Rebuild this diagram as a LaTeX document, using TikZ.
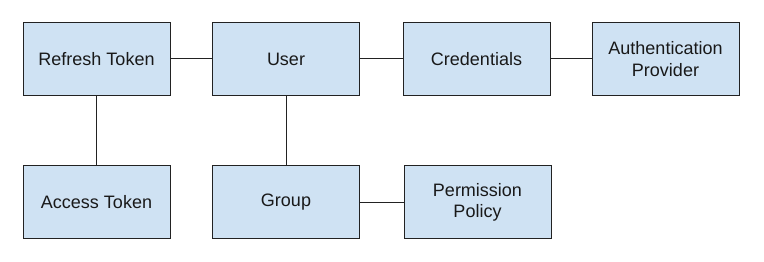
\documentclass[tikz,border=0pt]{standalone}
\usepackage{fontspec}
\setmainfont{Liberation Sans}
\definecolor{boxfill}{HTML}{CFE2F3}
\definecolor{boxline}{HTML}{222222}
\begin{document}
\begin{tikzpicture}[x=1pt,y=1pt,
  entity/.style={draw=boxline, fill=boxfill, line width=1pt, minimum width=147pt, minimum height=73pt, inner sep=0pt, align=center, font=\fontsize{18}{21.5}\selectfont, text=black!90},
  link/.style={draw=boxline, line width=1pt}]
\useasboundingbox (0,0) rectangle (764,262);
\node[entity] (refresh) at (96.5,203) {Refresh Token};
\node[entity] (user) at (286,203) {User};
\node[entity] (cred) at (476.5,203) {Credentials};
\node[entity] (auth) at (665.5,203) {Authentication\\Provider};
\node[entity] (access) at (96.5,59.5) {Access Token};
\node[entity] (group) at (286,59.5) {Group};
\node[entity] (perm) at (477.5,59.5) {Permission\\Policy};
\draw[link] (refresh) -- (user);
\draw[link] (user) -- (cred);
\draw[link] (cred) -- (auth);
\draw[link] (refresh) -- (access);
\draw[link] (user) -- (group);
\draw[link] (group) -- (perm);
\end{tikzpicture}
\end{document}
